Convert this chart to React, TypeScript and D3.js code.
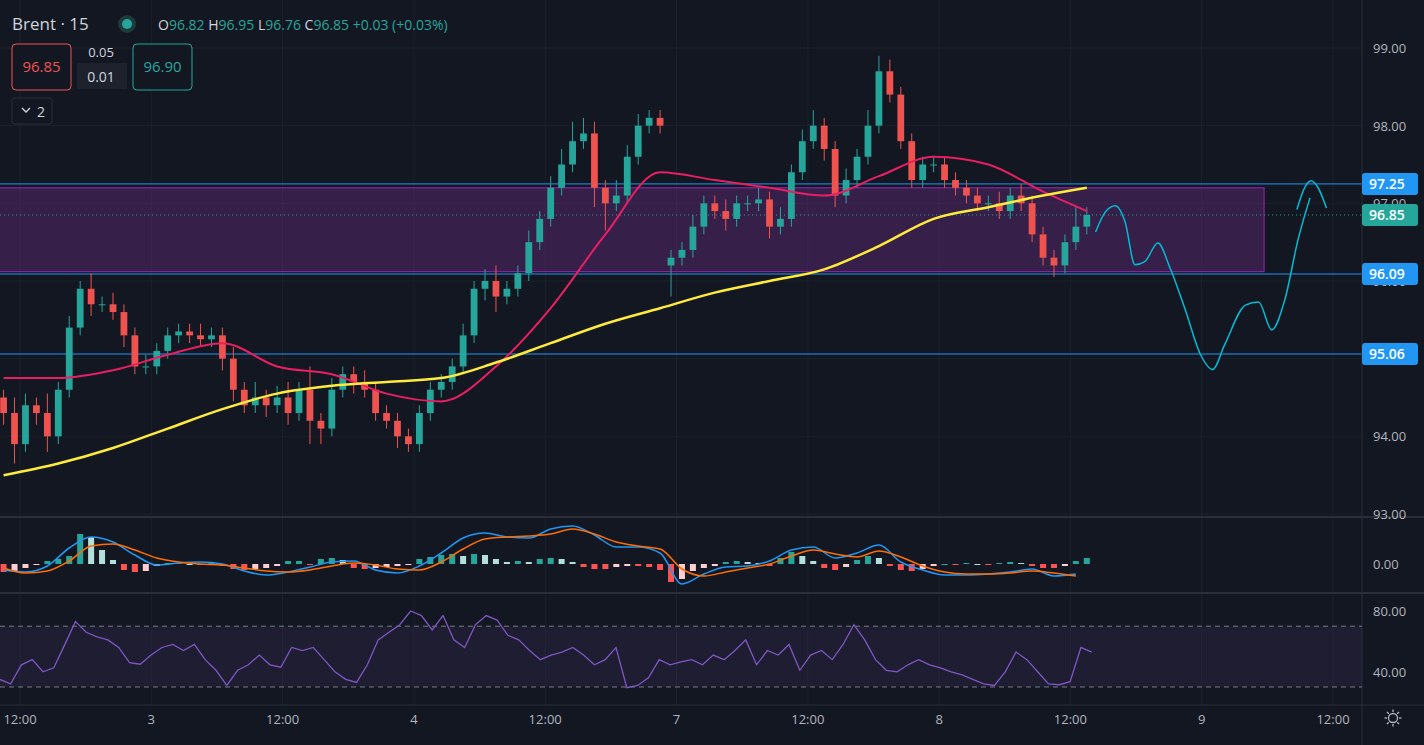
import * as d3 from "d3";
import React from "react";

// hourly bars, bar 0 sits at Feb 2 10:30 (chart opens on day 2)
const closes = [
  94.3, 93.9, 94.4, 94.3, 94.0, 94.6, 95.4, 95.9, 95.7, 95.7,
  95.6, 95.3, 94.9, 94.9, 95.1, 95.3, 95.35, 95.3, 95.25, 95.3,
  95.0, 94.6, 94.4, 94.5, 94.4, 94.5, 94.3, 94.6, 94.2, 94.1,
  94.6, 94.8, 94.7, 94.6, 94.3, 94.2, 94.0, 93.9, 94.3, 94.6,
  94.7, 94.9, 95.3, 95.9, 96.0, 95.8, 95.9, 96.1, 96.5, 96.8,
  97.2, 97.5, 97.8, 97.9, 97.2, 97.0, 97.1, 97.6, 98.0, 98.1,
  98.0, 96.3, 96.4, 96.7, 97.0, 96.9, 96.8, 97.0, 97.0, 97.05,
  96.7, 96.8, 97.4, 97.8, 98.0, 97.7, 97.1, 97.3, 97.6, 98.0,
  98.7, 98.4, 97.8, 97.3, 97.5, 97.5, 97.3, 97.2, 97.1, 97.0,
  97.0, 96.9, 97.1, 97.0, 96.6, 96.3, 96.2, 96.5, 96.7, 96.85,
];
const gapOpens: Record<number, number> = { 0: 94.5, 61: 96.2 };
const wickUp = [
  0.1, 0.2, 0.15, 0.1, 0.25, 0.1, 0.15, 0.1, 0.2, 0.1,
  0.15, 0.1, 0.1, 0.15, 0.1, 0.1, 0.1, 0.1, 0.15, 0.1,
  0.1, 0.15, 0.1, 0.2, 0.1, 0.15, 0.2, 0.1, 0.3, 0.1,
  0.15, 0.1, 0.1, 0.15, 0.1, 0.1, 0.1, 0.1, 0.1, 0.1,
  0.1, 0.1, 0.15, 0.1, 0.15, 0.2, 0.1, 0.1, 0.15, 0.1,
  0.15, 0.2, 0.25, 0.2, 0.15, 0.1, 0.2, 0.15, 0.15, 0.1,
  0.1, 0.1, 0.1, 0.15, 0.1, 0.1, 0.15, 0.1, 0.1, 0.15,
  0.1, 0.15, 0.1, 0.15, 0.2, 0.1, 0.1, 0.15, 0.1, 0.2,
  0.2, 0.15, 0.1, 0.1, 0.1, 0.1, 0.1, 0.1, 0.1, 0.1,
  0.1, 0.15, 0.1, 0.15, 0.1, 0.1, 0.1, 0.1, 0.25, 0.1,
];
const wickDn = [
  0.15, 0.25, 0.1, 0.15, 0.2, 0.1, 0.1, 0.1, 0.15, 0.1,
  0.1, 0.15, 0.1, 0.1, 0.1, 0.1, 0.1, 0.1, 0.1, 0.1,
  0.15, 0.15, 0.1, 0.1, 0.15, 0.1, 0.15, 0.1, 0.3, 0.2,
  0.1, 0.1, 0.15, 0.1, 0.1, 0.1, 0.15, 0.1, 0.1, 0.1,
  0.1, 0.1, 0.1, 0.1, 0.15, 0.2, 0.1, 0.1, 0.1, 0.1,
  0.1, 0.1, 0.1, 0.1, 0.25, 0.35, 0.1, 0.1, 0.1, 0.1,
  0.1, 0.4, 0.1, 0.1, 0.1, 0.1, 0.15, 0.1, 0.1, 0.1,
  0.15, 0.1, 0.1, 0.1, 0.1, 0.15, 0.15, 0.1, 0.1, 0.1,
  0.1, 0.1, 0.1, 0.1, 0.1, 0.1, 0.1, 0.1, 0.1, 0.1,
  0.1, 0.1, 0.1, 0.1, 0.1, 0.1, 0.15, 0.1, 0.1, 0.1,
];

// moving averages sampled every 5 bars (last point at bar 99)
const maBars = [0, 5, 10, 15, 20, 25, 30, 35, 40, 45, 50, 55, 60, 65, 70, 75, 80, 85, 90, 95, 99];
const maFast = [94.75, 94.75, 94.85, 95.05, 95.2, 94.9, 94.8, 94.55, 94.45, 94.9, 95.65, 96.6, 97.4, 97.3, 97.2, 97.1, 97.35, 97.6, 97.5, 97.15, 96.9];
const maSlow = [93.5, 93.65, 93.85, 94.1, 94.35, 94.55, 94.65, 94.7, 94.75, 94.95, 95.2, 95.45, 95.65, 95.85, 96.0, 96.15, 96.45, 96.8, 96.95, 97.1, 97.2];

// hand-drawn projection, [hour from 2 Feb 12:00, price]
const projection: [number, number][] = [
  [98.3, 96.63], [99.2, 96.89], [100.1, 96.97], [101.0, 96.76], [101.9, 96.21], [102.8, 96.25],
  [104.0, 96.49], [105.1, 96.17], [106.5, 95.63], [107.9, 95.05], [109.0, 94.86], [110.1, 95.18],
  [112.0, 95.69], [113.2, 95.73], [114.4, 95.37], [115.6, 95.76], [116.8, 96.53], [117.9, 97.07],
];
const projectionArc: [number, number][] = [[116.7, 96.92], [117.4, 97.2], [118.0, 97.29], [118.6, 97.21], [119.4, 96.94]];

const levels = [97.25, 96.09, 95.06];
const zone = { from: -2, to: 113.7, top: 97.2, bottom: 96.12 };
const lastPrice = 96.85;
const priceTicks = [93, 94, 95, 96, 97, 98, 99];

// MACD every 2 bars
const macd = [
  -0.06, -0.08, -0.02, 0.16, 0.27, 0.22, 0.09, -0.01, 0.01, 0.02,
  0, -0.07, -0.11, -0.08, -0.03, 0.02, 0.03, -0.06, -0.09, -0.02,
  0.11, 0.26, 0.31, 0.27, 0.26, 0.35, 0.38, 0.29, 0.17, 0.17,
  0.11, -0.2, -0.1, -0.03, -0.02, 0.03, 0.14, 0.17, 0.06, 0.11,
  0.19, 0.02, -0.06, -0.11, -0.11, -0.1, -0.08, -0.05, -0.12, -0.1,
];
const signal = [
  -0.04, -0.09, -0.07, 0.03, 0.18, 0.2, 0.14, 0.06, 0.02, 0.0,
  -0.01, -0.04, -0.07, -0.08, -0.06, -0.02, 0.01, -0.01, -0.05, -0.06,
  0.02, 0.15, 0.25, 0.27, 0.28, 0.3, 0.35, 0.3, 0.22, 0.18,
  0.15, -0.05, -0.12, -0.08, -0.04, 0.0, 0.08, 0.14, 0.1, 0.07,
  0.13, 0.07, -0.02, -0.08, -0.1, -0.1, -0.09, -0.07, -0.09, -0.12,
];
const hist = [
  -0.08, -0.07, -0.04, -0.01, 0.03, 0.05, 0.08, 0.3, 0.27, 0.14,
  0.04, -0.06, -0.08, -0.07, -0.02, 0.01, 0.01, 0.0, -0.01, 0.01,
  -0.02, -0.05, -0.06, -0.05, -0.04, -0.02, 0.03, 0.03, -0.01, 0.05,
  0.06, 0.04, -0.04, -0.05, -0.04, -0.03, -0.02, -0.01, 0.05, 0.07,
  0.09, 0.1, 0.08, 0.1, 0.09, 0.05, 0.02, 0.03, 0.02, 0.05,
  0.06, 0.05, 0.02, -0.03, -0.05, -0.05, -0.03, -0.02, -0.02, -0.03,
  -0.06, -0.18, -0.15, -0.07, -0.04, -0.02, 0.02, 0.03, 0.02, 0.01,
  -0.02, 0.06, 0.12, 0.08, 0.03, -0.04, -0.06, -0.03, 0.04, 0.08,
  0.06, -0.02, -0.06, -0.07, -0.05, -0.02, 0.0, -0.01, 0.01, 0.0,
  -0.01, 0.01, 0.02, 0.01, -0.02, -0.04, -0.04, -0.02, 0.03, 0.06,
];

const rsi = [
  35, 32, 44.6, 48, 40, 42.6, 57.7, 73, 66, 63, 61, 56, 46, 45, 51, 56, 58, 54, 58, 48,
  41, 31, 41, 44.6, 51, 44.6, 43, 56, 54, 56, 48, 40, 35, 33, 44.6, 61, 66, 71, 80, 77,
  67.5, 77, 61, 56, 71, 77, 74, 64, 61, 54, 48, 51, 53, 56, 51, 44.6, 48, 56, 29.5, 31,
  36, 48, 44.6, 46.6, 48, 44.6, 51, 48, 54, 61, 44.6, 54, 51, 58, 41, 51, 54, 48, 58, 71,
  61, 48, 41, 40, 44.6, 48, 44.6, 42.6, 40, 38, 35, 32, 31, 40, 53, 48, 40, 32, 31.5, 33.5,
  56, 53,
];

const timeTicks = [
  { h: 0, label: "12:00" }, { h: 12, label: "3" }, { h: 24, label: "12:00" }, { h: 36, label: "4" },
  { h: 48, label: "12:00" }, { h: 60, label: "7" }, { h: 72, label: "12:00" }, { h: 84, label: "8" },
  { h: 96, label: "12:00" }, { h: 108, label: "9" }, { h: 120, label: "12:00" },
];

const W = 1424;
const H = 745;
const AXIS_X = 1362;
const UP = "#26a69a";
const DOWN = "#ef5350";
const TXT = "#b2b5be";
const FONT = "'Open Sans', 'DejaVu Sans', sans-serif";

export default function App() {
  const xH = d3.scaleLinear().domain([0, 120]).range([20, 1333]);
  const xBar = (i: number) => xH(i - 1.5);
  const y = d3.scaleLinear().domain([93, 99]).range([514, 48]);
  const yM = d3.scaleLinear().domain([-0.5, 0.5]).range([614, 514]);
  const yR = d3.scaleLinear().domain([30, 80]).range([687, 611]);
  const rsiX = d3.scaleLinear().domain([0, rsi.length - 1]).range([xBar(-0.35), xBar(99.45)]);

  const bw = (xBar(1) - xBar(0)) * 0.62;
  const candles = closes.map((c, i) => {
    const o = gapOpens[i] ?? closes[i - 1];
    return { i, o, c, h: Math.max(o, c) + wickUp[i], l: Math.min(o, c) - wickDn[i] };
  });

  const curve = d3.line<[number, number]>().x((d) => d[0]).y((d) => d[1]).curve(d3.curveMonotoneX);
  const maPath = (vals: number[]) => curve(vals.map((v, k) => [xBar(maBars[k]), y(v)]));
  const macdPath = (vals: number[]) => curve(vals.map((v, k) => [xBar(k * 2), yM(v)]));
  const rsiPath = d3.line<number>().x((_, j) => rsiX(j)).y((v) => yR(v))(rsi);
  const projPath = (pts: [number, number][]) => curve(pts.map(([h, p]) => [xH(h), y(p)]));

  const histColor = (v: number, i: number) => {
    const prev = i > 0 ? hist[i - 1] : v;
    if (v >= 0) return v >= prev ? "#26a69a" : "#b2dfdb";
    return v <= prev ? "#ff5252" : "#ffcdd2";
  };

  const axisBox = (p: number, fill: string) => (
    <g key={`b${p}`}>
      <rect x={AXIS_X} y={y(p) - 11} width={56} height={22} rx={3} fill={fill} />
      <text x={AXIS_X + 7} y={y(p) + 5} fill="#fff" fontSize={14} fontWeight={600}>{p.toFixed(2)}</text>
    </g>
  );

  return (
    <div style={{ position: "fixed", left: 0, top: 0 }}>
      <svg width={W} height={H} style={{ display: "block", background: "#131722", fontFamily: FONT }}>
        {/* grid */}
        {timeTicks.map((t) => (
          <line key={`gx${t.h}`} x1={xH(t.h)} x2={xH(t.h)} y1={0} y2={705} stroke="#1c202b" />
        ))}
        {priceTicks.map((p) => (
          <line key={`gy${p}`} x1={0} x2={AXIS_X} y1={y(p)} y2={y(p)} stroke="#1c202b" />
        ))}

        {/* zone and levels */}
        <rect x={xH(zone.from)} y={y(zone.top)} width={xH(zone.to) - xH(zone.from)} height={y(zone.bottom) - y(zone.top)}
          fill="rgba(120,50,150,0.35)" stroke="#9c27b0" strokeWidth={1} />
        {levels.map((l) => (
          <line key={`l${l}`} x1={0} x2={AXIS_X} y1={y(l)} y2={y(l)} stroke="#2196f3" strokeWidth={1} />
        ))}
        <line x1={0} x2={AXIS_X} y1={y(lastPrice)} y2={y(lastPrice)} stroke={UP} strokeDasharray="1,3" />

        {/* candles */}
        {candles.map((d) => {
          const col = d.c >= d.o ? UP : DOWN;
          const cx = xBar(d.i);
          return (
            <g key={`c${d.i}`}>
              <line x1={cx} x2={cx} y1={y(d.h)} y2={y(d.l)} stroke={col} />
              <rect x={cx - bw / 2} y={y(Math.max(d.o, d.c))} width={bw}
                height={Math.max(1, Math.abs(y(d.o) - y(d.c)))} fill={col} />
            </g>
          );
        })}

        <path d={maPath(maFast) ?? ""} fill="none" stroke="#e91e63" strokeWidth={2} />
        <path d={maPath(maSlow) ?? ""} fill="none" stroke="#ffeb3b" strokeWidth={2.5} />
        <path d={projPath(projection) ?? ""} fill="none" stroke="#00bcd4" strokeWidth={1.5} />
        <path d={projPath(projectionArc) ?? ""} fill="none" stroke="#00bcd4" strokeWidth={1.5} />

        {/* pane separators */}
        <line x1={0} x2={W} y1={517} y2={517} stroke="#2a2e39" strokeWidth={2} />
        <line x1={0} x2={W} y1={593} y2={593} stroke="#2a2e39" strokeWidth={2} />
        <line x1={0} x2={W} y1={705} y2={705} stroke="#2a2e39" />
        <line x1={AXIS_X} x2={AXIS_X} y1={0} y2={H} stroke="#2a2e39" />

        {/* MACD */}
        {hist.map((v, i) => (
          <rect key={`h${i}`} x={xBar(i) - 3} y={Math.min(yM(v), yM(0))} width={6}
            height={Math.max(1, Math.abs(yM(v) - yM(0)))} fill={histColor(v, i)} />
        ))}
        <path d={macdPath(macd) ?? ""} fill="none" stroke="#2196f3" strokeWidth={1.5} />
        <path d={macdPath(signal) ?? ""} fill="none" stroke="#ff6d00" strokeWidth={1.5} />

        {/* RSI */}
        <rect x={0} y={yR(70)} width={AXIS_X} height={yR(30) - yR(70)} fill="rgba(126,87,194,0.1)" />
        <line x1={0} x2={AXIS_X} y1={yR(70)} y2={yR(70)} stroke="#787b86" strokeDasharray="5,4" />
        <line x1={0} x2={AXIS_X} y1={yR(30)} y2={yR(30)} stroke="#787b86" strokeDasharray="5,4" />
        <path d={rsiPath ?? ""} fill="none" stroke="#7e57c2" strokeWidth={1.3} />

        {/* right axis */}
        {priceTicks.map((p) => (
          <text key={`t${p}`} x={AXIS_X + 11} y={y(p) + 5} fill={TXT} fontSize={13}>{p.toFixed(2)}</text>
        ))}
        <text x={AXIS_X + 11} y={yM(0) + 5} fill={TXT} fontSize={13}>0.00</text>
        <text x={AXIS_X + 11} y={yR(80) + 5} fill={TXT} fontSize={13}>80.00</text>
        <text x={AXIS_X + 11} y={yR(40) + 5} fill={TXT} fontSize={13}>40.00</text>
        {axisBox(96.09, "#2196f3")}
        {axisBox(95.06, "#2196f3")}
        {axisBox(97.25, "#2196f3")}
        {axisBox(lastPrice, UP)}

        {/* time axis */}
        {timeTicks.map((t) => (
          <text key={`x${t.h}`} x={xH(t.h)} y={724} fill={TXT} fontSize={13} textAnchor="middle">{t.label}</text>
        ))}
        <g transform="translate(1393,718)" stroke={TXT} strokeWidth={1.3} fill="none">
          <circle r={4.5} />
          {d3.range(8).map((k) => {
            const a = (k * Math.PI) / 4;
            return <line key={k} x1={Math.cos(a) * 6} y1={Math.sin(a) * 6} x2={Math.cos(a) * 8.5} y2={Math.sin(a) * 8.5} />;
          })}
        </g>

        {/* header */}
        <text x={12} y={30} fill="#d1d4dc" fontSize={17}>Brent · 15</text>
        <circle cx={127} cy={24} r={9} fill="#1e3a3a" />
        <circle cx={127} cy={24} r={5} fill={UP} />
        <text x={158} y={30} fontSize={14}>
          <tspan fill="#d1d4dc">O</tspan><tspan fill={UP}>96.82 </tspan>
          <tspan fill="#d1d4dc">H</tspan><tspan fill={UP}>96.95 </tspan>
          <tspan fill="#d1d4dc">L</tspan><tspan fill={UP}>96.76 </tspan>
          <tspan fill="#d1d4dc">C</tspan><tspan fill={UP}>96.85 +0.03 (+0.03%)</tspan>
        </text>
        <rect x={12} y={44} width={59} height={46} rx={4} fill="#131722" stroke={DOWN} />
        <text x={41.5} y={72} fill={DOWN} fontSize={15} textAnchor="middle">96.85</text>
        <text x={101} y={57} fill="#d1d4dc" fontSize={13} textAnchor="middle">0.05</text>
        <rect x={77} y={63} width={50} height={26} fill="#1e222d" />
        <text x={101} y={82} fill="#d1d4dc" fontSize={14} textAnchor="middle">0.01</text>
        <rect x={133} y={44} width={59} height={46} rx={4} fill="#131722" stroke={UP} />
        <text x={162.5} y={72} fill={UP} fontSize={15} textAnchor="middle">96.90</text>
        <rect x={12} y={98} width={40} height={26} rx={3} fill="#131722" stroke="#2a2e39" />
        <path d="M22,108 l4,4 l4,-4" stroke="#d1d4dc" fill="none" strokeWidth={1.3} />
        <text x={37} y={117} fill="#d1d4dc" fontSize={14}>2</text>
      </svg>
    </div>
  );
}
